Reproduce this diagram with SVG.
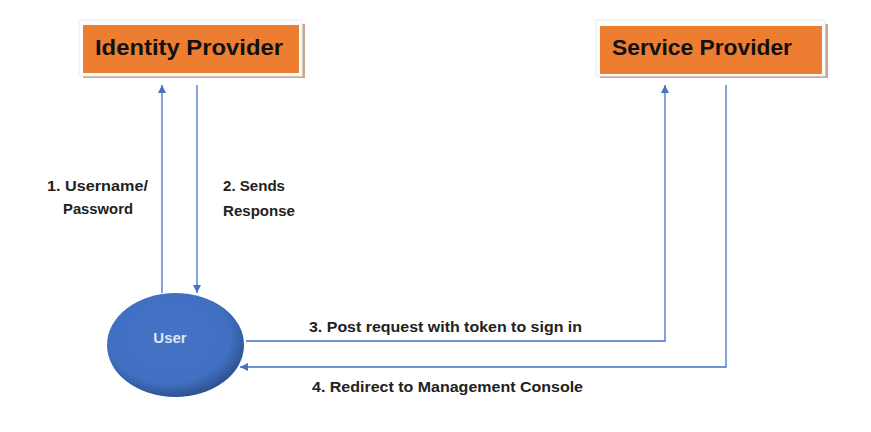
<svg xmlns="http://www.w3.org/2000/svg" width="871" height="432" viewBox="0 0 871 432">
<defs>
<style>
.frame{fill:#fdfdfd;stroke:#ececec;stroke-width:1}
.shadow{fill:#c9a48e}
.box{fill:#ED7D31}
.title{font-family:"Liberation Sans",Arial,sans-serif;font-weight:bold;font-size:22px;fill:#111}
.lbl{font-family:"Liberation Sans",Arial,sans-serif;font-weight:bold;font-size:15px;fill:#222}
.conn{stroke:#4472C4;stroke-width:1.3;fill:none}
</style>
<marker id="ah" viewBox="0 0 10 10" refX="10" refY="5" markerWidth="8" markerHeight="8" markerUnits="userSpaceOnUse" orient="auto">
<path d="M0,0 L10,5 L0,10 z" fill="#4472C4"/>
</marker>
<radialGradient id="ug" cx="0.45" cy="0.42" r="0.6">
<stop offset="0" stop-color="#4472C4"/>
<stop offset="0.75" stop-color="#4170C2"/>
<stop offset="1" stop-color="#2c4f8c"/>
</radialGradient>
</defs>
<rect width="871" height="432" fill="#ffffff"/>
<g id="identity-provider">
<rect class="shadow" x="83" y="24" width="222" height="54"/>
<rect class="frame" x="79" y="20" width="223" height="56"/>
<rect class="box" x="83" y="25" width="216" height="48"/>
<text class="title" x="95" y="55" textLength="188" lengthAdjust="spacingAndGlyphs">Identity Provider</text>
</g>
<g id="service-provider">
<rect class="shadow" x="600" y="24" width="228" height="54"/>
<rect class="frame" x="596" y="20" width="229" height="56"/>
<rect class="box" x="600" y="26" width="222" height="48"/>
<text class="title" x="612" y="55" textLength="180" lengthAdjust="spacingAndGlyphs">Service Provider</text>
</g>
<g id="user">
<ellipse cx="175.5" cy="345" rx="68.5" ry="52" fill="url(#ug)"/>
<text x="170" y="343" text-anchor="middle" font-family="Liberation Sans,Arial,sans-serif" font-weight="bold" font-size="15" fill="#dde6f5">User</text>
</g>
<g id="connectors">
<line class="conn" x1="162" y1="293" x2="162" y2="85" marker-end="url(#ah)"/>
<line class="conn" x1="197" y1="85" x2="197" y2="293" marker-end="url(#ah)"/>
<polyline class="conn" points="246,341 665,341 665,85" marker-end="url(#ah)"/>
<polyline class="conn" points="726,85 726,367 240,367" marker-end="url(#ah)"/>
</g>
<g id="labels">
<text class="lbl" x="47" y="191" textLength="101" lengthAdjust="spacingAndGlyphs">1. Username/</text>
<text class="lbl" x="63" y="214" textLength="70" lengthAdjust="spacingAndGlyphs">Password</text>
<text class="lbl" x="223" y="191" textLength="62" lengthAdjust="spacingAndGlyphs">2. Sends</text>
<text class="lbl" x="223" y="216" textLength="72" lengthAdjust="spacingAndGlyphs">Response</text>
<text class="lbl" x="309" y="332" textLength="273" lengthAdjust="spacingAndGlyphs">3. Post request with token to sign in</text>
<text class="lbl" x="312" y="392" textLength="271" lengthAdjust="spacingAndGlyphs">4. Redirect to Management Console</text>
</g>
</svg>
